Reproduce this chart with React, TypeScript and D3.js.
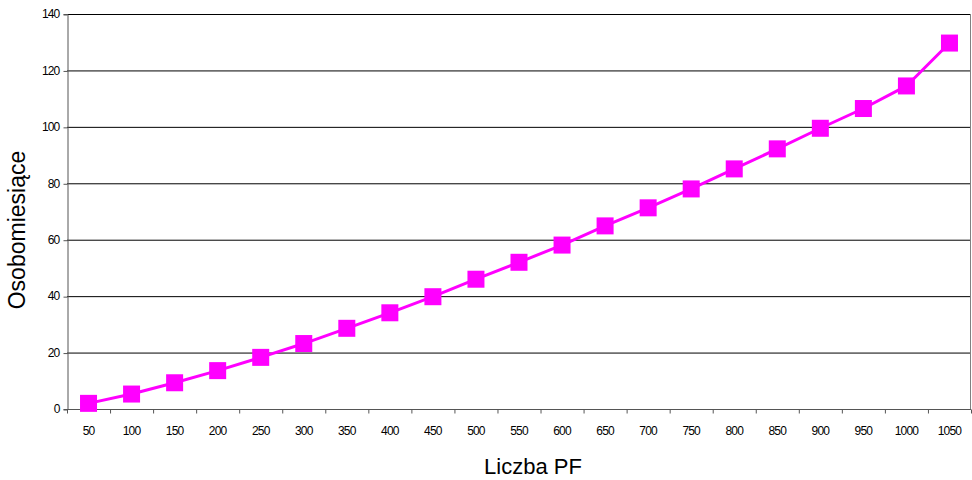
import React, { useRef, useEffect } from 'react';
import * as d3 from 'd3';

const categories = ['50', '100', '150', '200', '250', '300', '350', '400', '450', '500', '550', '600', '650', '700', '750', '800', '850', '900', '950', '1000', '1050'];
const values = [2.0, 5.3, 9.3, 13.6, 18.3, 23.2, 28.6, 34.1, 39.8, 46.0, 52.0, 58.1, 64.9, 71.3, 78.0, 85.1, 92.2, 99.5, 106.5, 114.5, 129.7];
const yTicks = [0, 20, 40, 60, 80, 100, 120, 140];

const App: React.FC = () => {
  const svgRef = useRef<SVGSVGElement>(null);

  useEffect(() => {
    if (!svgRef.current) return;
    const width = 972;
    const height = 480;
    const margin = { top: 14, right: 1, bottom: 71, left: 67 };
    const innerWidth = width - margin.left - margin.right;
    const innerHeight = height - margin.top - margin.bottom;

    const svg = d3.select(svgRef.current);
    svg.selectAll('*').remove();

    const g = svg.append('g').attr('transform', `translate(${margin.left},${margin.top})`);

    const x = d3.scaleBand<string>().domain(categories).range([0, innerWidth]);
    const y = d3.scaleLinear().domain([0, 140]).range([innerHeight, 0]);

    // gridlines
    g.append('g')
      .selectAll('line')
      .data(yTicks.filter(t => t > 0))
      .enter()
      .append('line')
      .attr('x1', 0)
      .attr('x2', innerWidth)
      .attr('y1', d => y(d) + 0.5)
      .attr('y2', d => y(d) + 0.5)
      .attr('stroke', '#000')
      .attr('stroke-width', 1);

    // right border
    g.append('line')
      .attr('x1', innerWidth - 0.5)
      .attr('x2', innerWidth - 0.5)
      .attr('y1', 0)
      .attr('y2', innerHeight)
      .attr('stroke', '#808080');

    // y axis
    const gy = g.append('g')
      .attr('transform', 'translate(0.5,0)')
      .call(d3.axisLeft(y).tickValues(yTicks).tickSize(4).tickPadding(4));
    gy.select('.domain').attr('stroke', '#555');
    gy.selectAll('.tick line').attr('stroke', '#555').attr('transform', 'translate(0,0.5)');
    gy.selectAll('.tick text')
      .attr('font-family', 'Arial, "Liberation Sans", sans-serif')
      .attr('font-size', 12)
      .attr('letter-spacing', -0.8)
      .attr('fill', '#000');

    // x axis
    const gx = g.append('g').attr('transform', `translate(0,${innerHeight + 0.5})`);
    gx.append('line')
      .attr('x1', 0)
      .attr('x2', innerWidth)
      .attr('stroke', '#555');
    gx.selectAll('line.tick')
      .data(d3.range(categories.length + 1))
      .enter()
      .append('line')
      .attr('class', 'tick')
      .attr('x1', i => (i < categories.length ? (x(categories[i]) as number) : innerWidth) + 0.5)
      .attr('x2', i => (i < categories.length ? (x(categories[i]) as number) : innerWidth) + 0.5)
      .attr('y1', 0)
      .attr('y2', 4)
      .attr('stroke', '#555');
    gx.selectAll('text')
      .data(categories)
      .enter()
      .append('text')
      .attr('x', d => (x(d) as number) + x.bandwidth() / 2)
      .attr('y', 25)
      .attr('text-anchor', 'middle')
      .attr('font-family', 'Arial, "Liberation Sans", sans-serif')
      .attr('font-size', 12)
      .attr('letter-spacing', -0.8)
      .attr('fill', '#000')
      .text(d => d);

    // series line
    const line = d3.line<number>()
      .x((_, i) => (x(categories[i]) as number) + x.bandwidth() / 2)
      .y(d => y(d));
    g.append('path')
      .datum(values)
      .attr('d', line)
      .attr('fill', 'none')
      .attr('stroke', '#FF00FF')
      .attr('stroke-width', 3);

    const ms = 17;
    g.append('g')
      .selectAll('rect')
      .data(values)
      .enter()
      .append('rect')
      .attr('x', (_, i) => (x(categories[i]) as number) + x.bandwidth() / 2 - ms / 2)
      .attr('y', d => y(d) - ms / 2)
      .attr('width', ms)
      .attr('height', ms)
      .attr('fill', '#FF00FF');

    // axis titles
    svg.append('text')
      .attr('transform', 'translate(25,230) rotate(-90)')
      .attr('text-anchor', 'middle')
      .attr('font-family', 'Arial, "Liberation Sans", sans-serif')
      .attr('font-size', 23)
      .attr('fill', '#000')
      .text('Osobomiesiące');

    svg.append('text')
      .attr('x', 533)
      .attr('y', 474)
      .attr('text-anchor', 'middle')
      .attr('font-family', 'Arial, "Liberation Sans", sans-serif')
      .attr('font-size', 22)
      .attr('fill', '#000')
      .text('Liczba PF');
  }, []);

  return (
    <svg
      ref={svgRef}
      width={972}
      height={480}
      style={{ position: 'absolute', left: 0, top: 0, background: '#fff', display: 'block' }}
    />
  );
};

export default App;
